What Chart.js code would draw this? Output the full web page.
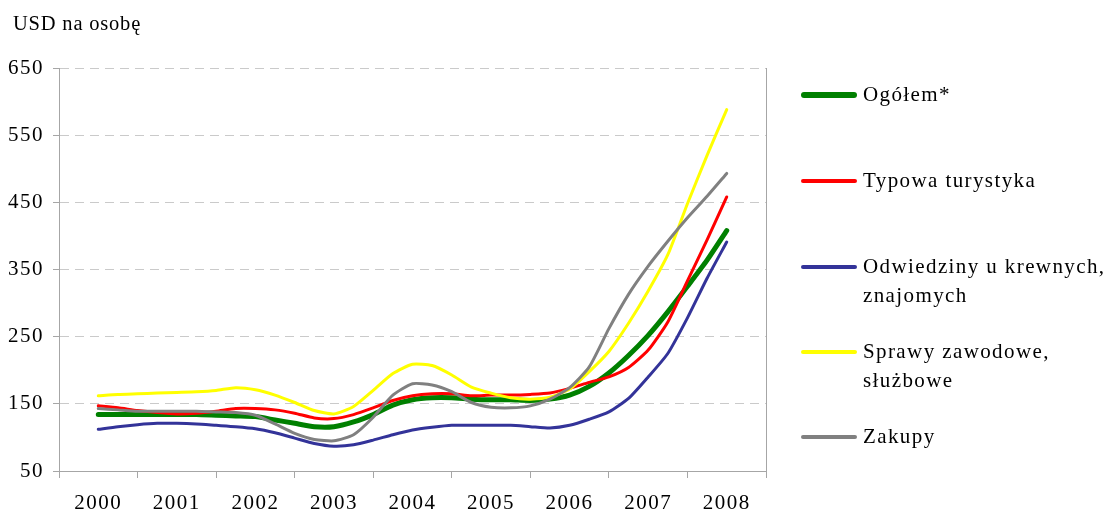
<!DOCTYPE html>
<html>
<head>
<meta charset="utf-8">
<script src="https://cdn.jsdelivr.net/npm/chart.js@4/dist/chart.umd.min.js"></script>
<style>
  html, body { margin: 0; padding: 0; background: #fff; }
  #wrap { position: relative; width: 1112px; height: 512px; font-family: "Liberation Serif", "Times New Roman", serif; color: #000; }
  #c { position: absolute; left: 0; top: 0; }
  #ytitle { position: absolute; left: 13px; top: 12px; font-size: 20.5px; letter-spacing: 0.8px; white-space: nowrap; }
  .lg { position: absolute; left: 801px; width: 320px; }
  .lg .sw { position: absolute; left: 0; width: 56px; border-radius: 3px; }
  .lg .tx { position: absolute; left: 62px; font-size: 21px; line-height: 29px; letter-spacing: 1.4px; white-space: nowrap; }
</style>
</head>
<body>
<div id="wrap">
  <canvas id="c" width="1112" height="512"></canvas>
  <div id="ytitle">USD na osobę</div>
  <div id="legend"></div>
</div>
<script>
// ---- data (quarterly values, 2000 Q1 .. 2008 Q1) ----
const years = ['2000','2001','2002','2003','2004','2005','2006','2007','2008'];
const yTicks = [50, 150, 250, 350, 450, 550, 650];

const seriesNames = ['Ogółem*', 'Typowa turystyka', 'Odwiedziny u krewnych,\nznajomych', 'Sprawy zawodowe,\nsłużbowe', 'Zakupy'];
const seriesColors = ['#008000', '#FF0000', '#333399', '#FFFF00', '#808080'];
const seriesWidths = [5, 3, 3, 3, 3];

const ogolem = [134,134,134,134,134,134,133,132,131,126,121,116,116,123,134,148,156,159,159,157,156,156,155,157,163,176,196,222,252,287,325,364,408];
const typowa = [147,144,140,137,135,136,139,143,143,141,136,129,128,134,144,155,162,165,165,162,163,163,164,166,173,182,190,204,230,272,333,394,458];
const odwiedziny = [112,116,119,121,121,120,118,116,113,107,99,91,87,89,96,104,111,115,118,118,118,118,116,114,118,127,138,158,190,225,278,337,391];
const sprawy = [162,164,165,166,167,168,170,174,171,163,152,140,135,146,170,195,209,207,193,175,166,159,157,160,172,198,228,270,318,372,448,520,588];
const zakupy = [143,141,139,139,139,139,138,137,133,120,106,97,95,104,130,163,180,178,168,152,145,144,147,157,174,205,262,313,355,392,427,459,493];

const seriesValues = [ogolem, typowa, odwiedziny, sprawy, zakupy];

// quarter index -> position on year axis (year slot centre + quarter offset)
const toPoints = arr => arr.map((v, i) => ({ x: 0.5 + i / 4, y: v }));

const axisColor = '#a6a6a6';
const gridColor = '#cacaca';
const FONT = '"Liberation Serif", "Times New Roman", serif';

const datasets = seriesValues.map((vals, k) => ({
  label: seriesNames[k],
  data: toPoints(vals),
  borderColor: seriesColors[k],
  backgroundColor: seriesColors[k],
  borderWidth: seriesWidths[k],
  pointRadius: 0,
  tension: 0.2,
  borderCapStyle: 'round',
  borderJoinStyle: 'round',
  fill: false,
  order: k === 0 ? 5 : 5 - k
}));

const spacing = {
  id: 'spacing',
  beforeDraw(chart) { chart.ctx.letterSpacing = '1.5px'; }
};

new Chart(document.getElementById('c'), {
  type: 'line',
  data: { datasets },
  plugins: [spacing],
  options: {
    responsive: false,
    animation: false,
    devicePixelRatio: 1,
    layout: { padding: { top: 68, right: 346, bottom: 0, left: 0 } },
    plugins: { legend: { display: false }, tooltip: { enabled: false }, title: { display: false } },
    scales: {
      x: {
        type: 'linear',
        min: 0, max: years.length,
        afterFit: s => { s.height = 41; },
        afterBuildTicks: axis => {
          const t = [];
          for (let k = 0; k <= years.length * 2; k++) t.push({ value: k / 2 });
          axis.ticks = t;
        },
        ticks: {
          autoSkip: false, maxRotation: 0, padding: 13,
          color: '#000',
          font: { family: FONT, size: 21 },
          callback: v => { const k = v - 0.5; return Number.isInteger(k) ? years[k] : ''; }
        },
        grid: {
          drawOnChartArea: true,
          color: c => (c.tick && c.tick.value === years.length) ? axisColor : 'transparent',
          tickColor: c => (c.tick && Number.isInteger(c.tick.value)) ? axisColor : 'transparent',
          tickLength: 7,
          lineWidth: 1
        },
        border: { display: true, color: axisColor, width: 1 }
      },
      y: {
        min: yTicks[0], max: yTicks[yTicks.length - 1],
        afterFit: s => { s.width = 59; },
        afterBuildTicks: axis => { axis.ticks = yTicks.map(v => ({ value: v })); },
        ticks: {
          padding: 9, color: '#000',
          font: { family: FONT, size: 21 }
        },
        grid: {
          color: c => (c.tick && c.tick.value === yTicks[0]) ? 'transparent' : gridColor,
          tickColor: axisColor,
          tickLength: 6,
          tickBorderDash: [],
          lineWidth: 1
        },
        border: { display: true, color: axisColor, width: 1, dash: [9, 6] }
      }
    }
  }
});

// ---- HTML legend built from the series arrays ----
const legendRows = [95, 181, 267, 352, 437];
const lg = document.getElementById('legend');
seriesNames.forEach((name, k) => {
  const item = document.createElement('div');
  item.className = 'lg';
  item.style.top = legendRows[k] + 'px';
  const sw = document.createElement('div');
  sw.className = 'sw';
  sw.style.background = seriesColors[k];
  sw.style.height = (seriesWidths[k] + 1) + 'px';
  sw.style.top = (-(seriesWidths[k] + 1) / 2) + 'px';
  const tx = document.createElement('div');
  tx.className = 'tx';
  tx.style.top = '-15px';
  name.split('\n').forEach((line, j) => {
    const d = document.createElement('div');
    d.textContent = line;
    tx.appendChild(d);
  });
  item.appendChild(sw);
  item.appendChild(tx);
  lg.appendChild(item);
});
</script>
</body>
</html>
